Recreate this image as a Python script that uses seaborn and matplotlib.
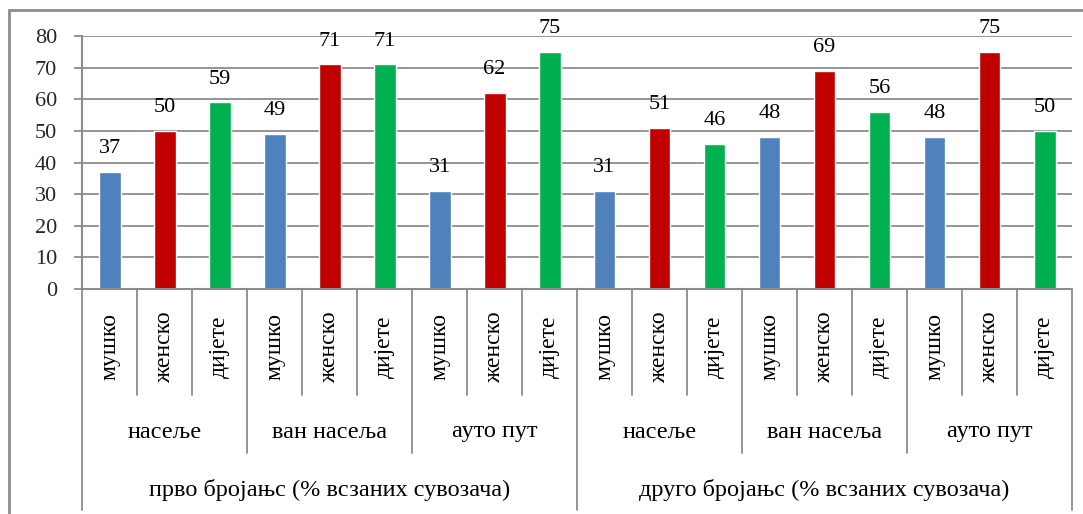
import numpy as np
import pandas as pd
import matplotlib
matplotlib.use("Agg")
import matplotlib.pyplot as plt
import matplotlib.transforms as mtransforms
from matplotlib.lines import Line2D
import seaborn as sns

# ---- data ----
top_groups = ["прво бројањс (% всзаних сувозача)", "друго бројањс (% всзаних сувозача)"]
mid_groups = ["насеље", "ван насеља", "ауто пут"]
sexes = ["мушко", "женско", "дијете"]
first_count = [37, 50, 59, 49, 71, 71, 31, 62, 75]
second_count = [31, 51, 46, 48, 69, 56, 48, 75, 50]
colors = ["#4F81BD", "#C00000", "#00B050"]
yticks = [0, 10, 20, 30, 40, 50, 60, 70, 80]

values = first_count + second_count
rows = []
i = 0
for t in top_groups:
    for m in mid_groups:
        for s in sexes:
            rows.append({"slot": str(i), "top": t, "mid": m, "sex": s, "value": values[i]})
            i += 1
df = pd.DataFrame(rows)

sns.set_theme(style="white")
plt.rcParams["font.family"] = ["Liberation Serif", "DejaVu Serif"]

fig = plt.figure(figsize=(10.83, 5.14), dpi=100)
ax = fig.add_axes([82 / 1083, 1 - 289 / 514, (1072 - 82) / 1083, (289 - 36) / 514])

sns.barplot(data=df, x="slot", y="value", hue="sex", hue_order=sexes,
            palette=colors, dodge=False, width=0.4, legend=False, ax=ax,
            order=list(df["slot"]), saturation=1)

for cont in ax.containers:
    ax.bar_label(cont, fmt="%d", padding=10, fontsize=16, color="black")

grid_c = "#8C8C8C"
ax.set_ylim(0, 80)
ax.set_xlim(-0.5, len(df) - 0.5)
ax.set_yticks(yticks)
ax.set_yticklabels([str(v) for v in yticks], fontsize=16)
ax.yaxis.grid(True, color=grid_c, linewidth=1.3)
ax.set_axisbelow(True)
ax.tick_params(axis="y", length=6, width=1.3, color=grid_c, left=True, pad=12)
ax.tick_params(axis="x", length=0, labelbottom=False)
ax.set_xlabel("")
ax.set_ylabel("")
for sp in ["top", "right", "bottom"]:
    ax.spines[sp].set_visible(False)
ax.spines["left"].set_color(grid_c)
ax.spines["left"].set_linewidth(1.5)

trans = mtransforms.blended_transform_factory(ax.transData, ax.transAxes)
ah = 289 - 36
def yfrac(px_below):
    return -px_below / ah

ax.plot([-0.5, len(df) - 0.5], [0, 0], transform=trans, color=grid_c, lw=1.5, clip_on=False)

n = len(df)
for b in range(n + 1):
    x = b - 0.5
    if b == 0 or b == n or b == n // 2:
        depth = 221
    elif b % 3 == 0:
        depth = 164
    else:
        depth = 106
    ax.plot([x, x], [0, yfrac(depth)], transform=trans, color=grid_c, lw=1.3, clip_on=False)

for k, row in df.iterrows():
    ax.text(k, yfrac(58), row["sex"], transform=trans, rotation=90,
            ha="center", va="center", fontsize=17, color="black")

for g in range(6):
    ax.text(g * 3 + 1, yfrac(143), mid_groups[g % 3], transform=trans,
            ha="center", va="center", fontsize=17.5, color="black")

for t in range(2):
    ax.text(t * 9 + 4, yfrac(201), top_groups[t], transform=trans,
            ha="center", va="center", fontsize=17.5, color="black")

fig.add_artist(Line2D([9 / 1083, 1.0], [1 - 10 / 514, 1 - 10 / 514], transform=fig.transFigure,
                      color="#8C8C8C", lw=2))
fig.add_artist(Line2D([9 / 1083, 9 / 1083], [1 - 10 / 514, 0], transform=fig.transFigure,
                      color="#8C8C8C", lw=2))

fig.savefig("out.png", dpi=100)
